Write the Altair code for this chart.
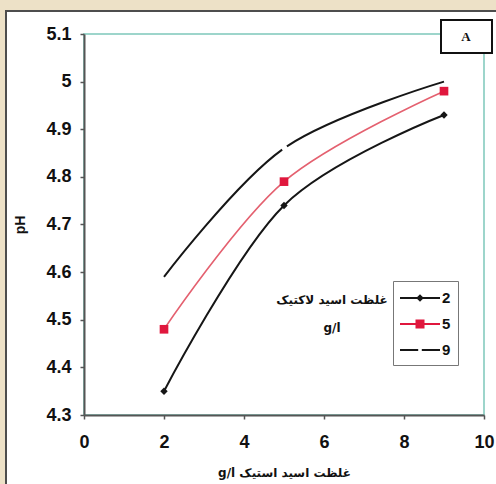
import altair as alt
import pandas as pd

# ---- data ----
x_vals = [2, 5, 9]
ph_2 = [4.35, 4.74, 4.93]
ph_5 = [4.48, 4.79, 4.98]
ph_9 = [4.59, 4.86, 5.00]
series = ["2", "5", "9"]
x_ticks = [0, 2, 4, 6, 8, 10]
y_ticks = [4.3, 4.4, 4.5, 4.6, 4.7, 4.8, 4.9, 5.0, 5.1]
x_title = "g/l غلظت اسید استیک"
y_title = "pH"
legend_title = "غلظت اسید لاکتیک\ng/l"
panel_label = "A"

df = pd.DataFrame({
    "x": x_vals * 3,
    "ph": ph_2 + ph_5 + ph_9,
    "series": [series[0]] * 3 + [series[1]] * 3 + [series[2]] * 3,
})

BEIGE = "#ede1c7"
FRAME = "#4d4d4d"
TEAL = "#9dd5cb"
RED_LINE = "#e4606f"
RED_MARK = "#e0173d"
BLACK = "#161616"

axis_common = dict(
    grid=False, domainColor="#555", domainWidth=2, tickColor="#555",
    tickWidth=1.5, tickSize=4, labelFont="Liberation Sans", labelFontSize=18,
    labelFontWeight="bold", labelColor="#111", zindex=1,
)

xenc = alt.X("x:Q", scale=alt.Scale(domain=[0, 10]),
             axis=alt.Axis(values=x_ticks, title=x_title, labelPadding=14,
                           titleFont="DejaVu Sans", titleFontSize=12,
                           titleFontWeight="bold", titleColor="#111",
                           titlePadding=16, labelFlush=False, **axis_common))
yenc = alt.Y("ph:Q", scale=alt.Scale(domain=[4.3, 5.1]),
             axis=alt.Axis(values=y_ticks, format="~g", title=y_title,
                           labelPadding=9, titleFont="Liberation Sans",
                           titleFontSize=14, titleFontWeight="bold",
                           titleColor="#111", titlePadding=18, **axis_common))

base = alt.Chart(df)

line2 = base.transform_filter("datum.series == '2'").mark_line(
    interpolate="cardinal", color=BLACK, strokeWidth=2).encode(x=xenc, y=yenc)
line5 = base.transform_filter("datum.series == '5'").mark_line(
    interpolate="cardinal", color=RED_LINE, strokeWidth=1.6).encode(x="x:Q", y="ph:Q")
line9 = base.transform_filter("datum.series == '9'").mark_line(
    interpolate="cardinal", color=BLACK, strokeWidth=2,
    strokeDash=[174, 6]).encode(x="x:Q", y="ph:Q")
pts2 = base.transform_filter("datum.series == '2'").mark_point(
    shape="diamond", filled=True, color=BLACK, size=55, opacity=1).encode(x="x:Q", y="ph:Q")
pts5 = base.transform_filter("datum.series == '5'").mark_point(
    shape="square", filled=True, color=RED_MARK, size=75, opacity=1).encode(x="x:Q", y="ph:Q")

# legend symbols: line + marker drawn as filled paths (unit = 10 px, centre shifted right)
p_line = "M-1,-0.1L3,-0.1L3,0.1L-1,0.1Z"
p2 = p_line + "M1,-0.38L1.38,0L1,0.38L0.62,0Z"
p5 = p_line + "M0.55,-0.45L1.45,-0.45L1.45,0.45L0.55,0.45Z"
p9 = "M-1,-0.1L0.82,-0.1L0.82,0.1L-1,0.1ZM1.18,-0.1L3,-0.1L3,0.1L1.18,0.1Z"

leg = alt.Legend(orient="none", legendX=309, legendY=247, title=None,
                 padding=7, strokeColor="#777", fillColor="white",
                 symbolSize=400, symbolStrokeWidth=0, labelOffset=22,
                 labelFont="Liberation Sans", labelFontSize=15,
                 labelFontWeight="bold", labelColor="#111", rowPadding=8)
legend_layer = base.transform_filter("false").mark_point(
    filled=True, opacity=1, size=400).encode(
    x="x:Q", y="ph:Q",
    fill=alt.Fill("series:N", scale=alt.Scale(domain=series, range=[BLACK, RED_MARK, BLACK]), legend=leg),
    shape=alt.Shape("series:N", scale=alt.Scale(domain=series, range=[p2, p5, p9]), legend=leg),
)

one = alt.Chart(pd.DataFrame({"k": [0]}))

# legend title text (annotation in data coordinates)
leg_title = alt.Chart(pd.DataFrame({"x": [6.2], "ph": [4.542], "t": [legend_title]})).mark_text(
    font="DejaVu Sans", fontSize=12, fontWeight="bold", color="#111",
    align="center", baseline="middle", lineBreak="\n", lineHeight=28).encode(
    x="x:Q", y="ph:Q", text="t:N")

# picture frame decorations
band_top = one.mark_rect(fill=BEIGE).encode(
    x=alt.value(-84), x2=alt.value(412), y=alt.value(-34), y2=alt.value(-24))
band_left = one.mark_rect(fill=BEIGE).encode(
    x=alt.value(-84), x2=alt.value(-79), y=alt.value(-34), y2=alt.value(450))
edge_top = one.mark_rect(fill=FRAME).encode(
    x=alt.value(-79), x2=alt.value(412), y=alt.value(-24), y2=alt.value(-22))
edge_left = one.mark_rect(fill=FRAME).encode(
    x=alt.value(-79), x2=alt.value(-77), y=alt.value(-24), y2=alt.value(450))

box_a = one.mark_rect(fill="white", stroke="#111", strokeWidth=2).encode(
    x=alt.value(357), x2=alt.value(408), y=alt.value(-14), y2=alt.value(19))
text_a = alt.Chart(pd.DataFrame({"t": [panel_label]})).mark_text(
    font="Liberation Serif", fontSize=13, fontWeight="bold", color="#111",
    align="center", baseline="middle").encode(
    x=alt.value(382), y=alt.value(3), text="t:N")

chart = alt.layer(
    line2, line5, line9, pts2, pts5, legend_layer, leg_title,
    band_top, band_left, edge_top, edge_left, box_a, text_a,
).properties(
    width=400, height=381,
    autosize=alt.AutoSizeParams(type="none"),
    padding={"left": 84, "top": 34, "right": 12, "bottom": 69},
    background="white",
).configure_view(stroke=TEAL, strokeWidth=2)

chart.save("out.html", embed_options={"renderer": "svg", "actions": False})
